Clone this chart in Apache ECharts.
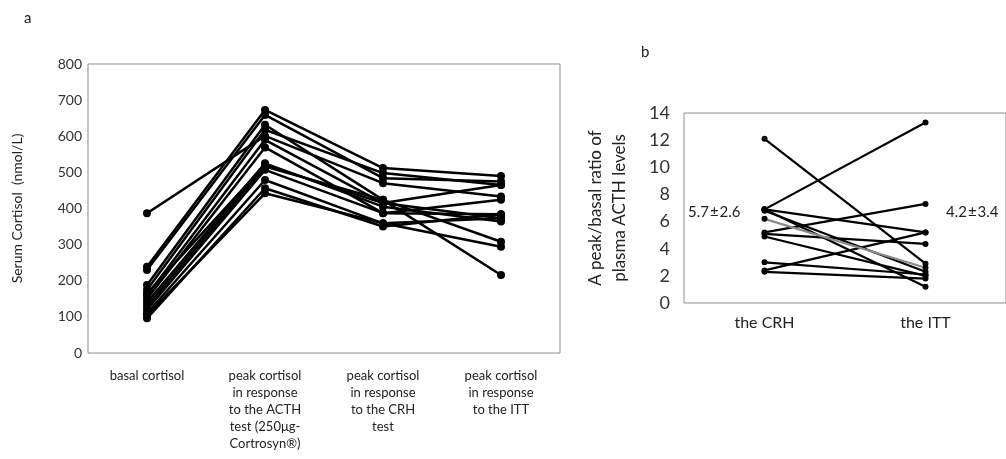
<!DOCTYPE html>
<html>
<head>
<meta charset="utf-8">
<script src="https://cdn.jsdelivr.net/npm/echarts@6/dist/echarts.min.js"></script>
<style>
  html, body { margin: 0; padding: 0; background: #fff; }
  #main { width: 1006px; height: 459px; }
</style>
</head>
<body>
<div id="main"></div>
<script>
// panel a: serum cortisol per subject
var catsA = ['basal cortisol',
  'peak cortisol\nin response\nto the ACTH\ntest (250μg-\nCortrosyn®)',
  'peak cortisol\nin response\nto the CRH\ntest',
  'peak cortisol\nin response\nto the ITT'];
var basal = [387, 239, 230, 188, 175, 165, 160, 150, 140, 130, 120, 110, 105, 96];
var acth  = [601, 673, 659, 632, 618, 521, 590, 569, 525, 516, 507, 479, 442, 456];
var crh   = [470, 512, 484, 424, 498, 415, 415, 387, 405, 424, 387, 359, 359, 350];
var itt   = [433, 490, 475, 216, 465, 465, 373, 424, 364, 308, 384, 294, 373, 384];
var ticksA = [0, 100, 200, 300, 400, 500, 600, 700, 800];

// panel b: peak/basal ACTH ratio
var catsB = ['the CRH', 'the ITT'];
var ratioCRH = [12.1, 6.9, 6.9, 6.9, 6.2, 5.2, 5.1, 4.9, 3.0, 2.4, 2.3, 6.8];
var ratioITT = [2.9, 13.3, 5.2, 1.2, 2.6, 7.3, 4.35, 2.0, 2.1, 5.2, 1.8, 2.3];
var greyLine = 4;
var meanLabels = ['5.7\u200a\u00b1\u200a2.6', '4.2\u200a\u00b1\u200a3.4'];

var font = 'Lato, "Open Sans", sans-serif';
var series = [];
for (var i = 0; i < basal.length; i++) {
  series.push({
    type: 'line', xAxisIndex: 0, yAxisIndex: 0,
    data: [basal[i], acth[i], crh[i], itt[i]],
    symbol: 'circle', symbolSize: 8,
    lineStyle: {color: '#000', width: 2.5},
    itemStyle: {color: '#000'},
    animation: false
  });
}
for (var j = 0; j < ratioCRH.length; j++) {
  var c = j === greyLine ? '#8a8a8a' : '#000';
  series.push({
    type: 'line', xAxisIndex: 1, yAxisIndex: 1,
    data: [ratioCRH[j], ratioITT[j]],
    symbol: 'circle', symbolSize: 6,
    lineStyle: {color: c, width: 2.2},
    itemStyle: {color: j === greyLine ? '#000' : c},
    z: j === greyLine ? 3 : 2,
    animation: false
  });
}

var myChart = echarts.init(document.getElementById('main'));
var option = {
  backgroundColor: '#fff',
  textStyle: {fontFamily: font},
  grid: [
    {left: 88, top: 64, width: 472, height: 289, show: true, borderColor: '#8c8c8c', borderWidth: 1},
    {left: 684, top: 113, width: 331, height: 190, show: true, borderColor: '#8c8c8c', borderWidth: 1}
  ],
  xAxis: [
    {
      type: 'category', gridIndex: 0, data: catsA, boundaryGap: true,
      axisLine: {show: false}, axisTick: {show: false},
      axisLabel: {color: '#222', fontSize: 13, lineHeight: 17, margin: 14, interval: 0, fontFamily: font}
    },
    {
      type: 'category', gridIndex: 1, data: catsB, boundaryGap: true,
      axisLine: {show: false}, axisTick: {show: false},
      axisLabel: {color: '#222', fontSize: 16, margin: 12, interval: 0, fontFamily: font}
    }
  ],
  yAxis: [
    {
      type: 'value', gridIndex: 0, min: ticksA[0], max: ticksA[ticksA.length - 1], interval: 100,
      axisLine: {show: false}, axisTick: {show: false}, splitLine: {show: false},
      axisLabel: {color: '#333', fontSize: 14, margin: 6, fontFamily: font},
      name: 'Serum Cortisol  (nmol/L)', nameLocation: 'middle', nameGap: 64, nameRotate: 90,
      nameTextStyle: {color: '#222', fontSize: 14, fontFamily: font}
    },
    {
      type: 'value', gridIndex: 1, min: 0, max: 14, interval: 2,
      axisLine: {show: false}, axisTick: {show: false}, splitLine: {show: false},
      axisLabel: {color: '#333', fontSize: 18, margin: 14, fontFamily: font},
      name: 'A peak/basal ratio of\nplasma ACTH levels', nameLocation: 'middle', nameGap: 52, nameRotate: 90,
      nameTextStyle: {color: '#222', fontSize: 17, lineHeight: 24, fontFamily: font}
    }
  ],
  graphic: [
    {type: 'text', left: 24, top: 11, style: {text: 'a', fill: '#222', font: '15px ' + font}},
    {type: 'text', left: 641, top: 45, style: {text: 'b', fill: '#222', font: '15px ' + font}},
    {type: 'text', left: 688, top: 205, style: {text: meanLabels[0], fill: '#222', font: '15px ' + font}},
    {type: 'text', left: 946, top: 205, style: {text: meanLabels[1], fill: '#222', font: '15px ' + font}}
  ],
  series: series
};
myChart.setOption(option);

window.addEventListener('resize', function(){
  myChart.resize();
});
</script>
</body>
</html>
